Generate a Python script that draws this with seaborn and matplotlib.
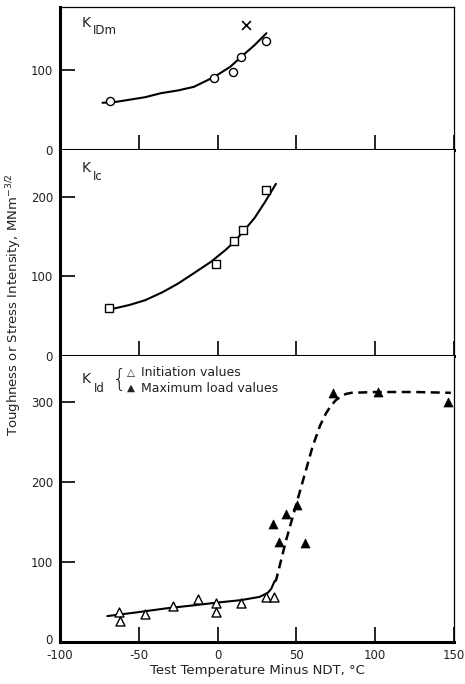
import matplotlib
matplotlib.use("Agg")
import matplotlib.pyplot as plt
import matplotlib.transforms as mtransforms
import seaborn as sns
import pandas as pd

# ---------------- data ----------------
x_ticks = [-100, -50, 0, 50, 100, 150]

# K_IDm panel
kidm_T = [-68, -2, 9.5, 15, 30.5]
kidm_K = [61, 90.5, 98, 116, 136]
kidm_cross_T = [18]
kidm_cross_K = [156]
kidm_curve_T = [-73, -65, -57, -46, -36, -25, -15, -2, 8, 15, 23.4, 31]
kidm_curve_K = [59, 60, 62.5, 66, 71, 74.5, 79, 91.5, 104, 116.5, 131, 146]

# K_Ic panel
kic_T = [-69, -1, 10.3, 16, 30.8]
kic_K = [60, 115, 144.6, 157.6, 208]
kic_curve_T = [-67, -56, -46, -35, -25, -15, -4, 0, 5, 11, 17, 23.4, 30, 37]
kic_curve_K = [59, 64, 70, 80, 91, 104, 118.5, 125, 133, 144, 158, 173, 193, 216]

# K_Id panel
init_T = [-62.5, -62, -46, -28, -12.5, -1, -1, 15, 31, 36]
init_K = [37.5, 26, 34, 44.5, 53, 48.7, 37, 48.7, 55.5, 56]
maxl_T = [35.4, 39.2, 43.5, 50.4, 55.5, 73, 101.5, 146]
maxl_K = [147, 124, 159.6, 171, 123, 310.5, 312.5, 300]
kid_solid_T = [-70, -50, -32.5, -15, -1, 15, 26.6, 31.8, 34, 36]
kid_solid_K = [32, 37, 41.7, 45.5, 48.7, 52, 56, 61, 66, 75]
kid_dash_T = [36, 37.1, 43.5, 51.9, 60.3, 65, 68.8, 72, 75.1, 78, 81.4, 85, 100, 125, 148]
kid_dash_K = [75, 77, 127, 185.5, 244, 270, 285.5, 295, 302, 306, 309.6, 311, 312, 312, 311]

# ---------------- figure ----------------
sns.set_theme(style="white")
plt.rcParams['font.family'] = ['DejaVu Sans']
plt.rcParams['axes.unicode_minus'] = False

W, H = 465, 684
fig = plt.figure(figsize=(W / 100, H / 100), dpi=100)
gs = fig.add_gridspec(3, 1, height_ratios=[143, 206, 285.7], hspace=0,
                      left=60 / W, right=454 / W, top=1 - 7 / H, bottom=1 - 641.7 / H)
ax1 = fig.add_subplot(gs[0])
ax2 = fig.add_subplot(gs[1], sharex=ax1)
ax3 = fig.add_subplot(gs[2], sharex=ax1)

ylims = [178.75, 258.5, 357]
yticks = [[0, 100], [0, 100, 200], [0, 100, 200, 300]]
for ax, yl, yt in zip([ax1, ax2, ax3], ylims, yticks):
    ax.set_xlim(-100, 150)
    ax.set_ylim(0, yl)
    ax.set_xticks(x_ticks)
    ax.set_yticks(yt)
    ax.tick_params(axis='both', which='major', direction='in', length=11, width=1.2,
                   color='black', labelsize=8.5, labelcolor='#222222',
                   bottom=True, left=True, top=False, right=False)
    ax.tick_params(axis='y', pad=5)
    ax.tick_params(axis='x', pad=5)
    for s in ['left', 'bottom']:
        ax.spines[s].set_linewidth(2.2)
        ax.spines[s].set_color('black')
    for s in ['top', 'right']:
        ax.spines[s].set_linewidth(0.9)
        ax.spines[s].set_color('black')
    ax.grid(False)
    ax.set_xlabel('')
    ax.set_ylabel('')

ax2.spines['top'].set_visible(False)
ax3.spines['top'].set_visible(False)
plt.setp(ax1.get_xticklabels(), visible=False)
plt.setp(ax2.get_xticklabels(), visible=False)

# top panel
sns.lineplot(x=kidm_curve_T, y=kidm_curve_K, sort=False, estimator=None, ax=ax1,
             color='black', lw=1.5)
sns.scatterplot(x=kidm_T, y=kidm_K, ax=ax1, marker='o', s=34, facecolor='white',
                edgecolor='black', linewidth=1.0, zorder=3)
sns.scatterplot(x=kidm_cross_T, y=kidm_cross_K, ax=ax1, marker='x', s=40,
                color='black', linewidth=1.2, zorder=3)

# middle panel
sns.lineplot(x=kic_curve_T, y=kic_curve_K, sort=False, estimator=None, ax=ax2,
             color='black', lw=1.5)
sns.scatterplot(x=kic_T, y=kic_K, ax=ax2, marker='s', s=36, facecolor='white',
                edgecolor='black', linewidth=1.0, zorder=3)

# bottom panel
sns.lineplot(x=kid_solid_T, y=kid_solid_K, sort=False, estimator=None, ax=ax3,
             color='black', lw=1.5)
sns.lineplot(x=kid_dash_T, y=kid_dash_K, sort=False, estimator=None, ax=ax3,
             color='black', lw=1.8, linestyle=(0, (3.6, 2.2)))
sns.scatterplot(x=init_T, y=init_K, ax=ax3, marker='^', s=42, facecolor='white',
                edgecolor='black', linewidth=1.0, zorder=3)
sns.scatterplot(x=maxl_T, y=maxl_K, ax=ax3, marker='^', s=42, color='black',
                edgecolor='black', linewidth=0.5, zorder=3)

ax3.set_xlabel('Test Temperature Minus NDT, °C', fontsize=9.5, color='#222222', labelpad=2)

# nudge the bottom "0" y label up a little so it clears the "-100" x label
fig.canvas.draw()
zero_lab = ax3.get_yticklabels()[0]
zero_lab.set_transform(zero_lab.get_transform() +
                       mtransforms.ScaledTranslation(0, 3 / 100, fig.dpi_scale_trans))

# y label
fig.text(14 / W, 1 - 305 / H, 'Toughness or Stress Intensity, MNm$^{-3/2}$',
         rotation=90, ha='center', va='center', fontsize=9.5, color='#222222')

# panel labels
def ftext(px, py, s, **kw):
    fig.text(px / W, 1 - py / H, s, color='#222222', **kw)

ftext(82, 23, 'K', fontsize=10, ha='left', va='center')
ftext(93, 31, 'IDm', fontsize=8.5, ha='left', va='center')
ftext(82, 168, 'K', fontsize=10, ha='left', va='center')
ftext(93, 177, 'Ic', fontsize=8.5, ha='left', va='center')
ftext(82, 379, 'K', fontsize=10, ha='left', va='center')
ftext(94, 388, 'Id', fontsize=8.5, ha='left', va='center')
ftext(112, 380, '{', fontsize=17, ha='left', va='center', fontweight='light')
ftext(127, 373, '△', fontsize=7.5, ha='left', va='center')
ftext(127, 388, '▲', fontsize=7.5, ha='left', va='center')
ftext(141, 373, 'Initiation values', fontsize=9, ha='left', va='center')
ftext(141, 388, 'Maximum load values', fontsize=9, ha='left', va='center')

fig.savefig('out.png', dpi=100, facecolor='white')
